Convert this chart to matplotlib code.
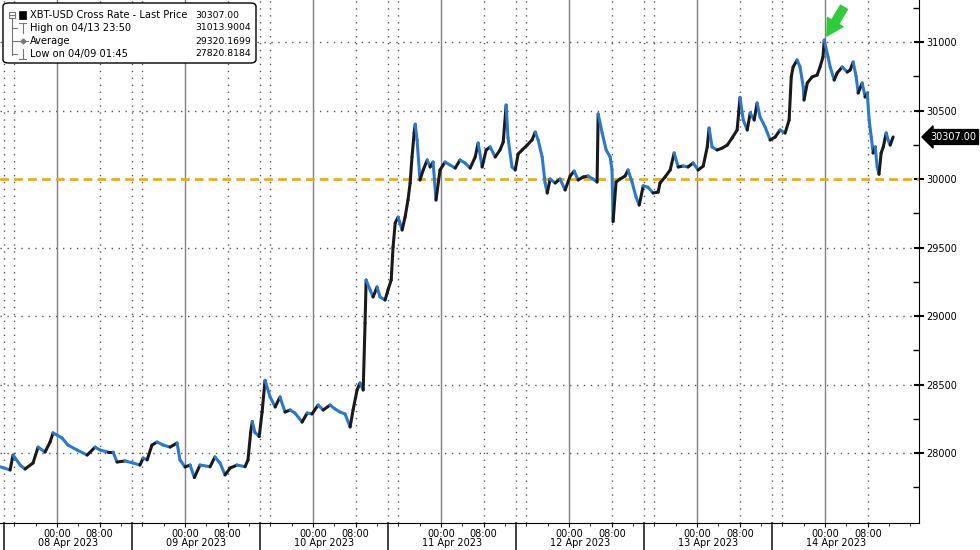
import numpy as np
import matplotlib.pyplot as plt
import matplotlib.transforms as mtransforms
from matplotlib.collections import LineCollection
from matplotlib.lines import Line2D
from matplotlib.patches import FancyBboxPatch, Rectangle

# hours after 08 Apr 2023 00:00, and XBT-USD price
hours = [-10.7, -8.8, -8.25, -6.9, -6.0, -4.5, -3.55, -2.25, -1.3, -0.75,
         0.0, 0.95, 2.05, 3.75, 5.65, 7.15, 8.05, 9.55, 10.5, 11.25,
         12.75, 14.25, 15.55, 16.15, 16.9, 17.8, 18.75, 19.9, 21.2, 22.5,
         23.05, 24.0, 24.95, 25.75, 26.8, 28.7, 29.6, 30.55, 31.5, 32.45,
         33.75, 35.25, 35.8, 36.3, 36.6, 37.1, 37.9, 38.45, 39.0, 39.95,
         40.9, 41.8, 42.75, 43.7, 44.6, 45.95, 46.9, 47.8, 48.95, 49.9,
         51.2, 52.1, 53.05, 54.0, 54.95, 55.5, 56.25, 56.8, 57.4, 57.75,
         57.95, 58.7, 59.25, 60.0, 60.55, 61.5, 62.05, 62.65, 63.0, 63.4,
         63.95, 64.7, 65.25, 65.8, 66.2, 66.55, 66.95, 67.15, 67.5, 68.05,
         68.65, 69.4, 69.95, 70.5, 71.05, 71.8, 72.75, 73.7, 74.65, 75.55,
         76.5, 77.45, 78.4, 78.95, 79.7, 80.45, 81.2, 82.15, 83.05, 83.65,
         84.2, 84.55, 85.3, 85.9, 86.45, 87.2, 88.15, 89.05, 89.65, 90.2,
         90.95, 91.5, 91.9, 92.45, 93.4, 94.3, 95.25, 96.2, 96.95, 97.7,
         98.65, 99.55, 100.5, 101.25, 101.45, 102.2, 102.95, 103.7, 104.05, 104.25,
         104.8, 105.55, 106.5, 107.05, 107.8, 108.55, 109.15, 109.9, 110.8, 111.75,
         112.7, 113.05, 114.0, 114.95, 115.7, 116.45, 117.4, 118.3, 119.25, 120.2,
         121.15, 121.9, 122.25, 122.8, 123.75, 124.7, 125.65, 126.55, 127.5, 128.05,
         128.65, 129.4, 129.95, 130.7, 131.25, 131.8, 132.75, 133.7, 134.65, 135.55,
         136.5, 137.25, 137.65, 138.0, 138.75, 139.3, 139.9, 140.05, 140.65, 141.55,
         142.5, 143.05, 143.6, 143.83, 144.55, 144.95, 145.7, 146.25, 147.2, 148.15,
         148.7, 149.25, 149.8, 150.2, 150.95, 151.5, 151.9, 152.25, 152.65, 153.0,
         153.4, 153.75, 154.1, 154.5, 154.9, 155.45, 155.8, 156.2, 156.75]
price = [27900, 27876, 27985, 27912, 27883, 27927, 28043, 28007, 28080, 28146,
         28131, 28109, 28058, 28022, 27985, 28043, 28022, 28007, 28007, 27934,
         27942, 27927, 27912, 27963, 27950, 28058, 28080, 28058, 28043, 28073,
         27949, 27898, 27912, 27821, 27912, 27900, 27971, 27927, 27840, 27890,
         27912, 27900, 27949, 28150, 28230, 28150, 28120, 28300, 28530, 28409,
         28336, 28409, 28299, 28314, 28292, 28226, 28292, 28285, 28350, 28314,
         28350, 28322, 28299, 28285, 28190, 28314, 28460, 28511, 28460, 28949,
         29263, 29190, 29139, 29212, 29139, 29117, 29190, 29263, 29504, 29679,
         29722, 29628, 29722, 29847, 29971, 30161, 30336, 30400, 30285, 29993,
         30066, 30139, 30088, 30124, 29847, 30066, 30124, 30102, 30080, 30139,
         30117, 30080, 30161, 30263, 30088, 30212, 30234, 30161, 30212, 30270,
         30540, 30300, 30088, 30066, 30183, 30212, 30248, 30285, 30343, 30285,
         30161, 29971, 29898, 30000, 29971, 30000, 29920, 30022, 30058, 29993,
         30015, 30022, 30000, 29978, 30475, 30336, 30212, 30161, 30066, 29690,
         29978, 30000, 30022, 30066, 29978, 29869, 29810, 29950, 29940, 29898,
         29905, 29971, 30015, 30066, 30190, 30088, 30095, 30088, 30117, 30066,
         30095, 30234, 30372, 30234, 30212, 30226, 30248, 30299, 30358, 30595,
         30431, 30358, 30482, 30431, 30555, 30453, 30380, 30285, 30307, 30358,
         30336, 30431, 30745, 30818, 30869, 30818, 30672, 30577, 30701, 30745,
         30759, 30818, 30891, 31014, 30891, 30818, 30723, 30774, 30818, 30781,
         30796, 30854, 30752, 30628, 30701, 30599, 30628, 30431, 30307, 30190,
         30234, 30088, 30035, 30190, 30234, 30336, 30285, 30248, 30307]

days = ['08 Apr 2023', '09 Apr 2023', '10 Apr 2023', '11 Apr 2023',
        '12 Apr 2023', '13 Apr 2023', '14 Apr 2023']
yticks = [28000, 28500, 29000, 29500, 30000, 30500, 31000]
level = 30000
last_price = 30307.00
high_at = 143.83
legend_names = ['XBT-USD Cross Rate - Last Price', 'High on 04/13 23:50',
                'Average', 'Low on 04/09 01:45']
legend_vals = ['30307.00', '31013.9004', '29320.1699', '27820.8184']

plt.rcParams['font.family'] = ['DejaVu Sans']
fig = plt.figure(figsize=(9.8, 5.5), dpi=100)
ax = fig.add_axes([0, 1 - 523 / 550, 919 / 980, 523 / 550])
ax.set_xlim(-10.69, 161.6)
ax.set_ylim(27489, 31307)

for s in ['top', 'left']:
    ax.spines[s].set_visible(False)
ax.spines['bottom'].set_color('black')
ax.spines['right'].set_color('black')

# grid
for v in yticks:
    ax.axhline(v, color='#555555', lw=1, ls=(0, (1, 4)), zorder=1)
for d in range(-1, 7):
    ax.axvline(d * 24, color='#808080', lw=1, zorder=1)
    ax.axvline(d * 24 + 8, color='#555555', lw=1, ls=(0, (1, 4)), zorder=1)
    if d < 6:
        ax.axvline(d * 24 + 14, color='#555555', lw=1, ls=(0, (1, 4)), zorder=1)
        ax.axvline(d * 24 + 16, color='#555555', lw=1, ls=(0, (1, 4)), zorder=1)
ax.axhline(level, color='#eeb000', lw=2, ls=(0, (3, 2)), zorder=2)

# price, black when rising, blue when falling
x = np.array(hours)
y = np.array(price)
pts = np.column_stack([x, y]).reshape(-1, 1, 2)
segs = np.concatenate([pts[:-1], pts[1:]], axis=1)
cols = np.where(np.diff(y) >= 0, '#1a1a1a', '#2a78d0')
ax.add_collection(LineCollection(segs, colors=cols, linewidths=2.2,
                                 capstyle='round', joinstyle='round', zorder=3))

# green arrow at the high
ax.annotate('', xy=(high_at + 0.5, max(price) + 30), xytext=(high_at + 3.7, max(price) + 240),
            arrowprops=dict(arrowstyle='simple,head_length=0.9,head_width=1.0,tail_width=0.45',
                            color='#2fcc3a', mutation_scale=13, shrinkA=0, shrinkB=0), zorder=5)

# y axis on right
ax.yaxis.tick_right()
ax.set_yticks(yticks)
ax.set_yticks(np.arange(27750, 31300, 250), minor=True)
ax.tick_params(axis='y', which='major', direction='inout', length=7, width=1.5,
               labelsize=7, pad=2)
ax.tick_params(axis='y', which='minor', direction='in', length=4, width=1)

# x axis
xt = [d * 24 + h for d in range(7) for h in (0, 8)]
ax.set_xticks(xt)
ax.set_xticklabels(['00:00', '08:00'] * 7)
ax.set_xticks(np.arange(-8, 161, 4), minor=True)
ax.tick_params(axis='x', which='major', direction='out', length=3, labelsize=7, pad=1.5)
ax.tick_params(axis='x', which='minor', direction='out', length=2)

tr = mtransforms.blended_transform_factory(ax.transData, ax.transAxes)
for i, lab in enumerate(days):
    ax.text(i * 24 + 2, -0.039, lab, transform=tr, ha='center', va='center', fontsize=7)
for d in range(-1, 6):
    ax.add_line(Line2D([d * 24 + 14] * 2, [0, -0.06], transform=tr, color='#333333',
                       lw=1.3, clip_on=False))

# last price tag
tr2 = mtransforms.blended_transform_factory(ax.transAxes, ax.transData)
ax.text(1.012, last_price, '%.2f' % last_price, transform=tr2, color='white', fontsize=7,
        ha='left', va='center', clip_on=False,
        bbox=dict(boxstyle='larrow,pad=0.25', fc='black', ec='black'))

# legend box
def fp(px, py):
    return px / 980, 1 - py / 550

box = FancyBboxPatch(fp(3, 63), 253 / 980, 60 / 550, boxstyle='round,pad=0,rounding_size=0.006',
                     transform=fig.transFigure, fc='white', ec='black', lw=1, zorder=10)
fig.add_artist(box)
rows = [15, 28, 41, 54]
for name, val, ry in zip(legend_names, legend_vals, rows):
    fig.text(*fp(30, ry), name, fontsize=7.1, va='center', ha='left', zorder=11)
    fig.text(*fp(195, ry), val, fontsize=6.7, va='center', ha='left', zorder=11)
g = '#777777'
fig.add_artist(Rectangle(fp(9, 18), 6 / 980, 6 / 550, transform=fig.transFigure,
                         fc='white', ec=g, lw=0.8, zorder=11))
fig.add_artist(Line2D([fp(10, 0)[0], fp(14, 0)[0]], [fp(0, 15)[1]] * 2, color=g, lw=0.8, zorder=11))
fig.add_artist(Rectangle(fp(19, 19), 7 / 980, 8 / 550, transform=fig.transFigure,
                         fc='black', ec='black', lw=0.5, zorder=11))
fig.add_artist(Line2D([fp(12, 0)[0]] * 2, [fp(0, 18)[1], fp(0, 55)[1]], color=g, lw=0.8, zorder=11))
for ry in rows[1:]:
    fig.add_artist(Line2D([fp(12, 0)[0], fp(17, 0)[0]], [fp(0, ry)[1]] * 2, color=g, lw=0.8, zorder=11))
fig.add_artist(Line2D([fp(19, 0)[0], fp(26, 0)[0]], [fp(0, 23)[1]] * 2, color=g, lw=0.8, zorder=11))
fig.add_artist(Line2D([fp(22.5, 0)[0]] * 2, [fp(0, 23)[1], fp(0, 33)[1]], color=g, lw=0.8, zorder=11))
fig.add_artist(Line2D([fp(17, 0)[0], fp(28, 0)[0]], [fp(0, 41)[1]] * 2, color=g, lw=0.8, zorder=11))
fig.add_artist(Line2D([fp(22.5, 0)[0]], [fp(0, 41)[1]], color=g, marker='D', markersize=2.5, zorder=11))
fig.add_artist(Line2D([fp(22.5, 0)[0]] * 2, [fp(0, 49)[1], fp(0, 59)[1]], color=g, lw=0.8, zorder=11))
fig.add_artist(Line2D([fp(19, 0)[0], fp(26, 0)[0]], [fp(0, 59)[1]] * 2, color=g, lw=0.8, zorder=11))

fig.savefig('out.png', dpi=100, facecolor='white')
